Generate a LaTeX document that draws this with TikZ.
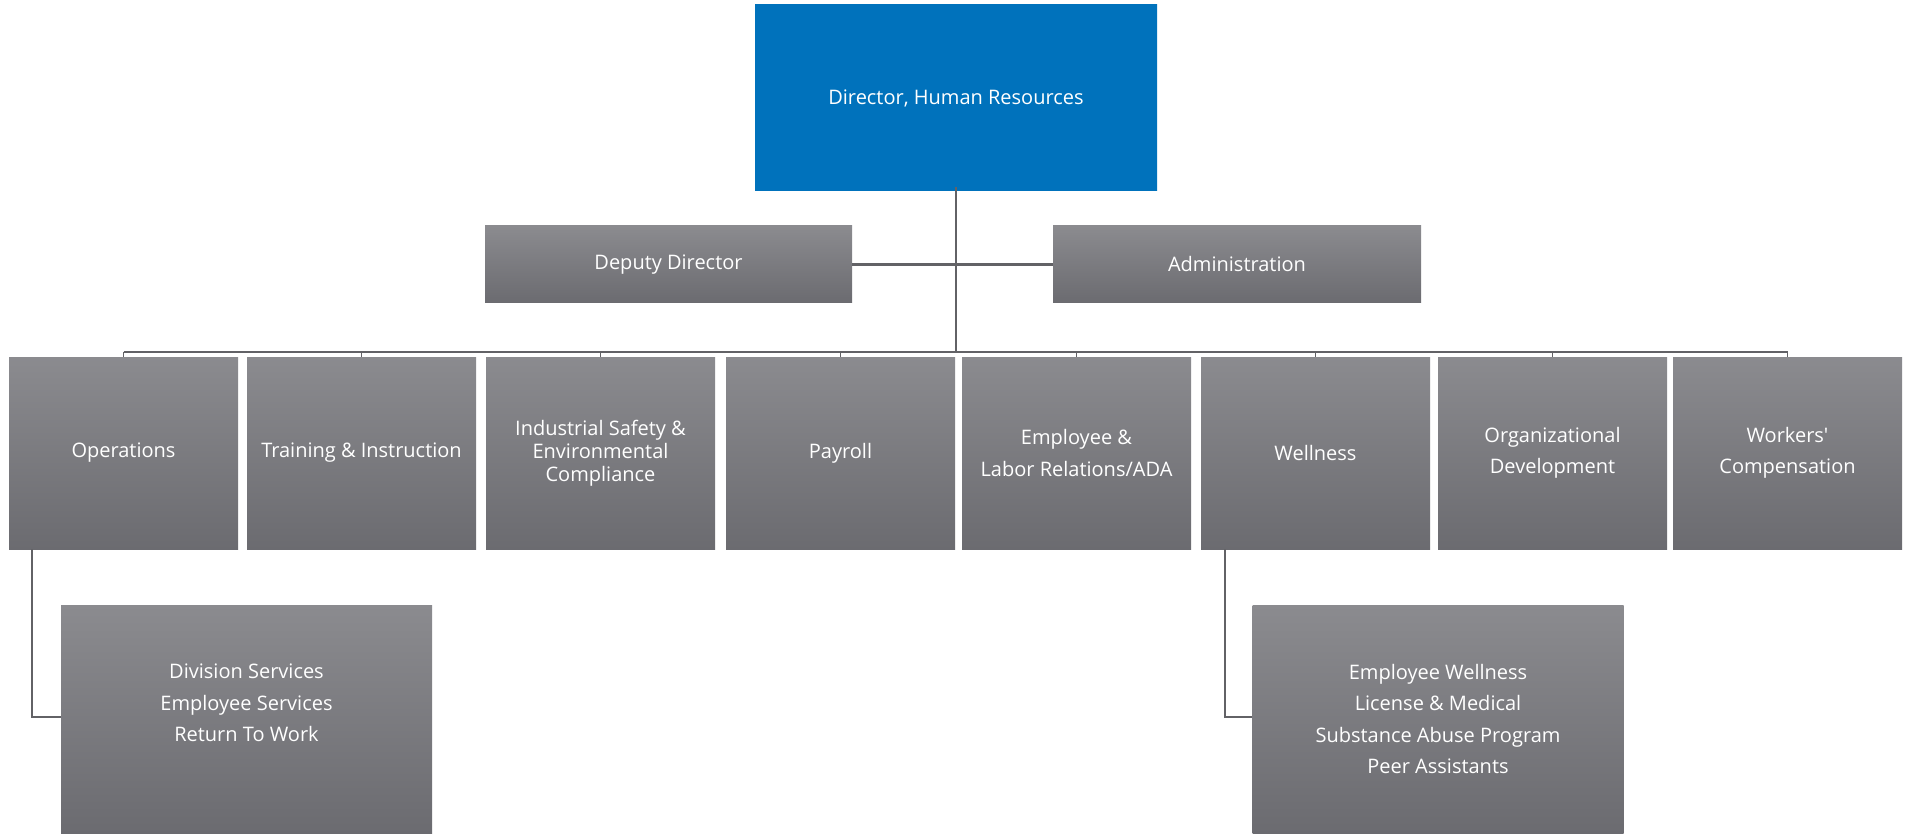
\documentclass[tikz,border=0pt]{standalone}
\usepackage{fontspec}
\usepackage{xcolor}
\usepackage{tikz}
\newfontfamily\orgfont{Open Sans}
\definecolor{dirblue}{RGB}{0,114,188}
\definecolor{boxtop}{RGB}{139,139,143}
\definecolor{boxbot}{RGB}{107,107,112}
\definecolor{linegrey}{RGB}{98,98,102}

\begin{document}
\begin{tikzpicture}[x=1pt,y=-1pt]
\tikzset{
  orgbox/.style={rectangle,inner sep=0pt,top color=boxtop,bottom color=boxbot,
    text=white,align=center,font=\orgfont\fontsize{20}{31.5}\selectfont},
  rowbox/.style={orgbox,minimum width=229pt,minimum height=192pt},
  subbox/.style={orgbox,minimum width=371pt,minimum height=229pt},
  subtext/.style={anchor=north,inner sep=0pt,text=white,align=center,
    font=\orgfont\fontsize{20}{31.5}\selectfont},
  wire/.style={draw=linegrey,line width=2.4pt}
}
\useasboundingbox (0,0) rectangle (1909,834);

% top
\node[orgbox,fill=dirblue,top color=dirblue,bottom color=dirblue,
      minimum width=402pt,minimum height=186pt] (dir) at (956,98) {Director, Human Resources};
\node[orgbox,minimum width=367pt,minimum height=77pt] (dep) at (668.5,264.5) {Deputy Director};
\node[orgbox,minimum width=368pt,minimum height=77pt] (adm) at (1237,264.5) {Administration};
\coordinate (bus) at (956,352);

% row of units
\node[rowbox] (ops)  at (123.5,453)  {Operations};
\node[rowbox] (trn)  at (361.5,453)  {Training \& Instruction};
\node[rowbox,font=\orgfont\fontsize{20}{23}\selectfont] (ind)  at (600.5,453)
     {Industrial Safety \&\\Environmental\\Compliance};
\node[rowbox] (pay)  at (840.5,453)  {Payroll};
\node[rowbox] (elr)  at (1076.5,453) {Employee \&\\Labor Relations/ADA};
\node[rowbox] (wel)  at (1315.5,453) {Wellness};
\node[rowbox] (org)  at (1552.5,453) {Organizational\\Development};
\node[rowbox] (wcp)  at (1787.5,453) {Workers\textquotesingle\\Compensation};

% sub units
\node[subbox] (opsub) at (246.5,719.5) {};
\node[subtext] at (246.5,664) {Division Services\\Employee Services\\Return To Work};
\node[subbox] (welsub) at (1438,719.5) {};
\node[subtext] at (1438,664) {Employee Wellness\\License \& Medical\\Substance Abuse Program\\Peer Assistants};

% lines
\draw[wire] ([yshift=4pt]dir.south) -- (bus);
\draw[wire] (dep.east) -- (adm.west);
\draw[wire,line width=1.8pt] (ops.north |- bus) -- (wcp.north |- bus);
\draw[wire,line width=1.8pt] (ops.north) -- (ops.north |- bus);
\draw[wire,line width=1.8pt] (trn.north) -- (trn.north |- bus);
\draw[wire,line width=1.8pt] (ind.north) -- (ind.north |- bus);
\draw[wire,line width=1.8pt] (pay.north) -- (pay.north |- bus);
\draw[wire,line width=1.8pt] (elr.north) -- (elr.north |- bus);
\draw[wire,line width=1.8pt] (wel.north) -- (wel.north |- bus);
\draw[wire,line width=1.8pt] (org.north) -- (org.north |- bus);
\draw[wire,line width=1.8pt] (wcp.north) -- (wcp.north |- bus);
\draw[wire] ([xshift=23pt]ops.south west) |- ([yshift=2.5pt]opsub.west);
\draw[wire] ([xshift=24pt]wel.south west) |- ([yshift=2.5pt]welsub.west);
\end{tikzpicture}
\end{document}
